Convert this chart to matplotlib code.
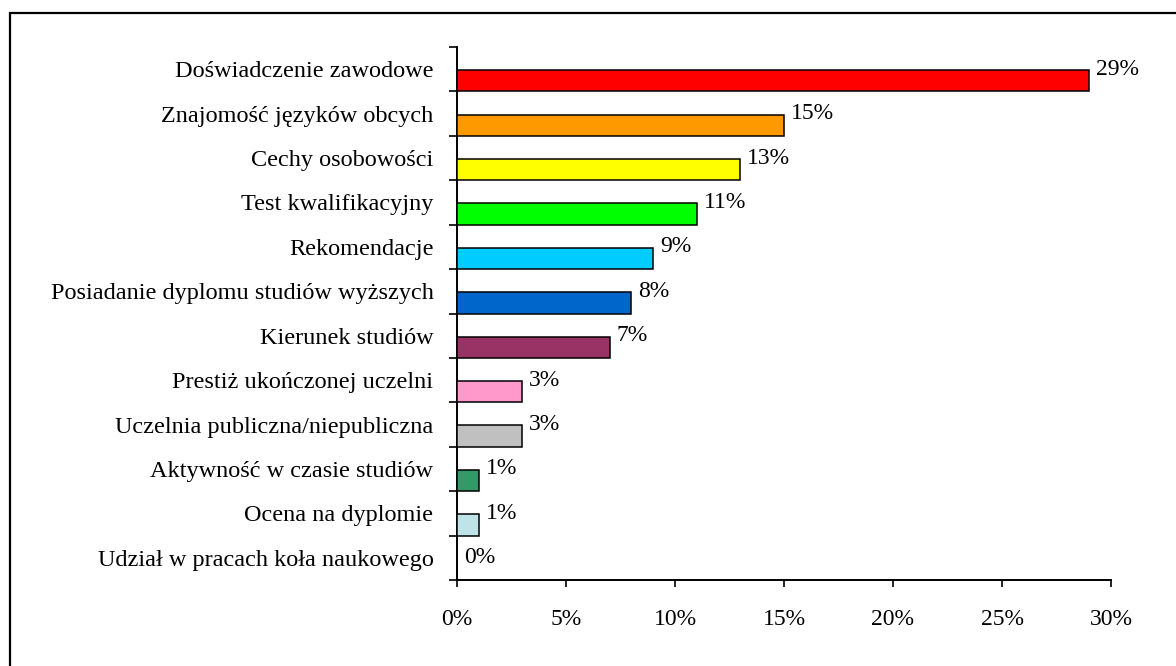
import matplotlib
matplotlib.use("Agg")
import matplotlib.pyplot as plt
import matplotlib.patches as mpatches
from matplotlib.ticker import FixedLocator, FuncFormatter
import numpy as np

# ── data (top to bottom as in the chart) ─────────────────────────────────────
categories = [
    "Doświadczenie zawodowe",
    "Znajomość języków obcych",
    "Cechy osobowości",
    "Test kwalifikacyjny",
    "Rekomendacje",
    "Posiadanie dyplomu studiów wyższych",
    "Kierunek studiów",
    "Prestiż ukończonej uczelni",
    "Uczelnia publiczna/niepubliczna",
    "Aktywność w czasie studiów",
    "Ocena na dyplomie",
    "Udział w pracach koła naukowego",
]
shares = [29, 15, 13, 11, 9, 8, 7, 3, 3, 1, 1, 0]
colours = [
    "#FF0000", "#FF9900", "#FFFF00", "#00FF00", "#00CCFF", "#0066CC",
    "#993366", "#FF99CC", "#C0C0C0", "#339966", "#BEE3E8", "#FFFFFF",
]
x_ticks = [0, 5, 10, 15, 20, 25, 30]

plt.rcParams["font.family"] = ["Liberation Serif", "DejaVu Serif"]

fig = plt.figure(figsize=(11.76, 6.66), dpi=100)
ax = fig.add_axes([457 / 1176, 1 - 580 / 666, (1111 - 457) / 1176, (580 - 47) / 666])

n = len(categories)
ypos = np.arange(n)[::-1]          # first category at the top

# bars sit in the lower half of each category band
ax.barh(ypos - 0.5, shares, height=0.48, align="edge",
        color=colours, edgecolor="black", linewidth=1.1, zorder=3)

for y, v in zip(ypos, shares):
    ax.annotate(f"{v}%", xy=(v, y), xytext=(5, 0), textcoords="offset points",
                ha="left", va="center", fontsize=17)

ax.set_xlim(0, 30)
ax.set_ylim(-0.5, n - 0.5)

ax.xaxis.set_major_locator(FixedLocator(x_ticks))
ax.xaxis.set_major_formatter(FuncFormatter(lambda v, _: f"{v:.0f}%"))
ax.tick_params(axis="x", direction="out", length=5, width=1.2, pad=16,
               labelsize=17)

ax.set_yticks(ypos)
ax.set_yticklabels(categories)
ax.yaxis.set_minor_locator(FixedLocator(np.arange(-0.5, n, 1.0)))
ax.tick_params(axis="y", which="major", length=0, pad=17, labelsize=17.5)
ax.tick_params(axis="y", which="minor", direction="out", length=6, width=1.2)

for side in ("top", "right"):
    ax.spines[side].set_visible(False)
for side in ("left", "bottom"):
    ax.spines[side].set_linewidth(1.4)

# outer frame (right and bottom run off the picture)
frame = mpatches.Rectangle((10 / 1176, -0.1), 1.2, 1 - 13 / 666 + 0.1,
                           transform=fig.transFigure, fill=False,
                           edgecolor="black", linewidth=1.6)
fig.patches.append(frame)

fig.savefig("out.png", dpi=100)
